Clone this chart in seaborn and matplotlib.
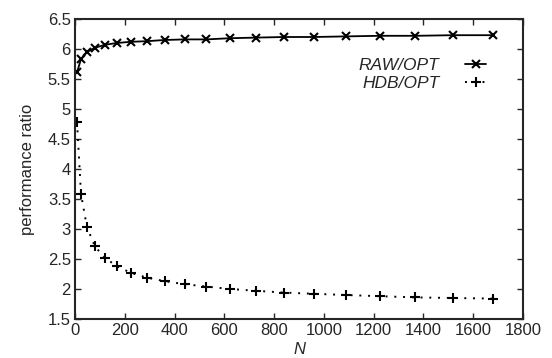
import numpy as np
import pandas as pd
import matplotlib
matplotlib.use("Agg")
import matplotlib.pyplot as plt
import seaborn as sns

# -------------------------------
# Data
# -------------------------------
n_values = [8, 24, 48, 80, 120, 168, 224, 288, 360, 440, 528, 624, 728,
            840, 960, 1088, 1224, 1368, 1520, 1680]
raw_opt = [5.61, 5.83, 5.95, 6.02, 6.07, 6.10, 6.12, 6.13, 6.15, 6.16, 6.16,
           6.18, 6.19, 6.20, 6.20, 6.21, 6.22, 6.22, 6.23, 6.23]
hdb_opt = [4.79, 3.59, 3.03, 2.71, 2.52, 2.38, 2.27, 2.19, 2.13, 2.08, 2.04,
           2.00, 1.97, 1.94, 1.92, 1.90, 1.88, 1.86, 1.85, 1.84]

x_ticks = np.arange(0, 1801, 200)
y_ticks = np.arange(1.5, 6.51, 0.5)

df = pd.DataFrame({"N": n_values, "RAW/OPT": raw_opt, "HDB/OPT": hdb_opt})

# -------------------------------
# Style
# -------------------------------
sns.set_style("ticks")
plt.rcParams['font.family'] = ['Liberation Sans', 'DejaVu Sans']
plt.rcParams['xtick.direction'] = 'in'
plt.rcParams['ytick.direction'] = 'in'

fig = plt.figure(figsize=(5.52, 3.58), dpi=100)
ax = fig.add_axes([75 / 552, 39 / 358, 448 / 552, 300 / 358])

# seaborn defaults marker edges to white, so give black explicitly
sns.lineplot(data=df, x="N", y="RAW/OPT", ax=ax, color="black", linewidth=1.3,
             linestyle="-", marker="x", markersize=6, markeredgewidth=1.5,
             markeredgecolor="black", label="RAW/OPT")
sns.lineplot(data=df, x="N", y="HDB/OPT", ax=ax, color="black", linewidth=1.4,
             linestyle=(0, (1, 3.5)), marker="+", markersize=7,
             markeredgewidth=1.5, markeredgecolor="black", label="HDB/OPT")

ax.set_xlim(0, 1800)
ax.set_ylim(1.5, 6.5)
ax.set_xticks(x_ticks)
ax.set_yticks(y_ticks)
ax.set_yticklabels([f"{v:g}" for v in y_ticks])
ax.tick_params(labelsize=12, length=4, width=1, top=True, right=True,
               pad=3)
for spine in ax.spines.values():
    spine.set_visible(True)
    spine.set_linewidth(1.5)

ax.set_xlabel("N", fontsize=12, style="italic", labelpad=3)
ax.set_ylabel("performance ratio", fontsize=12, labelpad=9)

leg = ax.legend(loc="upper right", bbox_to_anchor=(0.937, 0.9), frameon=False,
                markerfirst=False, fontsize=12.5, handlelength=1.2,
                handletextpad=1.5, labelspacing=0.2, borderpad=0)
for t in leg.get_texts():
    t.set_fontstyle("italic")

fig.savefig("out.png", dpi=100)
